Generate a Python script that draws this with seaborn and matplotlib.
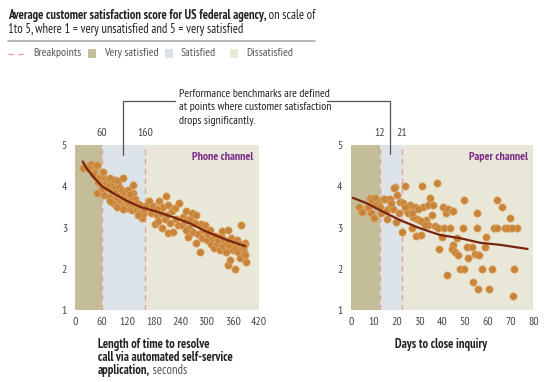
import matplotlib
matplotlib.use("Agg")
import matplotlib.pyplot as plt
import seaborn as sns
from matplotlib import font_manager
from matplotlib.lines import Line2D
from matplotlib.patches import Rectangle

# ---- data ----
phone_x = [18, 28, 37, 45, 49, 43, 47, 52, 49, 40, 55, 58, 30,
           64, 64, 68, 70, 72, 75, 78, 79, 82, 84, 86, 88, 90, 91, 92, 94, 96, 98, 99, 100,
           102, 104, 106, 108, 109, 111, 113, 115, 117, 119, 120, 122, 124, 126, 128, 129,
           131, 133, 134, 136, 138, 140, 142, 145, 148, 150, 152, 155, 157, 66, 76, 86, 96,
           62, 80, 110, 125, 144,
           165, 169, 172, 178, 182, 186, 190, 192, 196, 201, 204, 207, 209, 213, 216, 220,
           224, 228, 231, 235, 238, 243, 247, 250, 254, 257, 260, 263, 266, 270, 273, 277,
           277, 281, 285, 287, 290, 293, 296, 300, 303, 308, 311, 314, 317, 320, 323, 326,
           330, 332, 335, 338, 341, 344, 347, 350, 350, 354, 354, 357, 360, 362, 364, 366,
           369, 372, 375, 377, 379, 382, 385, 388, 388, 390, 386, 212, 253, 199, 186]
phone_y = [4.45, 4.50, 4.55, 4.47, 4.52, 4.35, 4.23, 4.11, 3.84, 4.30, 4.20, 4.05, 4.45,
           4.35, 4.19, 4.17, 4.09, 3.95, 4.17, 4.00, 4.19, 3.90, 3.80, 4.05, 3.72, 3.95, 4.15, 3.60, 3.85, 3.70, 4.13, 3.98, 3.55,
           3.80, 3.65, 3.90, 4.19, 3.75, 3.55, 3.85, 3.62, 3.70, 3.48, 3.90, 3.60, 3.75, 3.45, 3.68, 3.42,
           3.83, 4.03, 3.55, 3.70, 3.48, 3.42, 3.60, 3.50, 3.55, 3.38, 3.22, 3.33, 3.45, 3.80, 3.75, 3.60, 3.50,
           3.95, 3.65, 3.45, 3.82, 3.30,
           3.55, 3.64, 3.35, 3.52, 3.08, 3.30, 3.15, 3.65, 3.35, 3.49, 3.20, 3.76, 3.30, 2.87, 3.10, 3.41,
           2.90, 3.47, 3.20, 3.05, 3.60, 3.06, 3.25, 3.15, 3.41, 2.76, 3.00, 3.20, 3.34, 2.90, 3.10, 3.30,
           2.62, 2.85, 2.40, 3.08, 2.75, 2.95, 3.06, 2.70, 2.85, 2.94, 2.60, 2.75, 2.50, 2.80, 2.62, 2.70,
           2.45, 2.80, 2.92, 2.55, 2.70, 2.40, 2.60, 2.94, 2.09, 2.54, 2.21, 2.75, 2.45, 2.65, 2.00, 2.50,
           2.70, 2.40, 2.60, 2.25, 3.06, 2.50, 2.40, 2.62, 2.33, 2.17, 2.55, 3.55, 2.95, 3.00, 3.45]
phone_trend_x = [17, 26, 41, 61, 87, 117, 148, 178, 224, 262, 300, 346, 388]
phone_trend_y = [4.60, 4.43, 4.23, 4.00, 3.83, 3.65, 3.50, 3.41, 3.25, 3.10, 2.90, 2.70, 2.55]

paper_x = [3.8, 4.8, 7.4, 8.5, 8.9, 10.3, 9.2, 10.7, 12.1, 11.0, 13.3, 14.0, 15.0, 16.0, 17.0, 16.5,
           18.7, 19.4, 20.1, 19.8, 19.1, 17.5, 21.6, 23.0, 23.8, 22.6, 24.5, 26.0, 26.7, 28.2, 28.9,
           28.6, 30.7, 31.4, 31.8, 33.0, 34.0, 34.7, 35.5, 34.0, 36.9, 37.7, 38.4, 38.8, 39.8, 40.3,
           41.0, 42.0, 41.6, 42.8, 43.5, 44.2, 45.0, 44.7, 44.2, 45.7, 46.4, 47.2, 47.9, 49.0, 49.6,
           49.8, 50.8, 51.5, 53.0, 53.7, 54.5, 55.2, 55.2, 55.6, 56.4, 57.7, 58.8, 59.3, 60.6, 61.8,
           62.9, 63.9, 64.2, 66.1, 67.5, 69.0, 69.8, 71.7, 71.2, 73.0, 70.5, 25.0, 27.5, 29.5, 31.0,
           13.0, 15.5, 21.0, 24.0, 27.0, 32.5, 36.0]
paper_y = [3.49, 3.38, 3.49, 3.71, 3.36, 3.22, 3.67, 3.71, 3.60, 3.55, 3.36, 3.70, 3.69, 3.20, 3.69, 3.45,
           3.44, 3.97, 3.79, 3.14, 3.95, 3.60, 3.63, 3.60, 4.00, 2.90, 3.41, 3.55, 3.00, 3.49, 3.20,
           2.80, 2.82, 4.00, 3.50, 3.17, 3.55, 3.71, 3.30, 3.06, 3.04, 4.09, 3.00, 2.47, 2.78, 3.49,
           3.00, 1.85, 3.36, 3.44, 3.00, 3.41, 3.41, 2.57, 2.49, 2.41, 2.74, 2.33, 2.00, 3.00, 3.67,
           2.00, 2.52, 2.25, 2.52, 1.67, 2.36, 3.34, 3.00, 1.52, 2.33, 2.00, 2.52, 2.76, 1.52, 2.00,
           3.00, 3.67, 3.00, 3.50, 3.00, 3.00, 3.24, 2.00, 1.35, 3.00, 3.00, 3.35, 3.25, 3.45, 3.15,
           3.50, 3.40, 3.35, 3.50, 3.35, 3.05, 3.55]
paper_trend_x = [0.9, 7, 12.8, 21.6, 30.4, 39, 48, 56.6, 65.4, 77.5]
paper_trend_y = [3.72, 3.59, 3.42, 3.18, 2.98, 2.82, 2.74, 2.63, 2.58, 2.48]

phone_breaks = [60, 160]
phone_break_labels = ["60", "160"]
paper_breaks = [12.8, 22.4]
paper_break_labels = ["12", "21"]
phone_ticks = [0, 60, 120, 180, 240, 300, 360, 420]
paper_ticks = [0, 10, 20, 30, 40, 50, 60, 70, 80]
y_ticks = [1, 2, 3, 4, 5]

# ---- styles ----
c_very = "#C4BD9A"
c_sat = "#DCE4EA"
c_dis = "#E9E7D8"
c_break = "#E3A3A0"
c_dot = "#C8843A"
c_dot_edge = "#DDA865"
c_trend = "#7A2410"
c_txt = "#222222"
c_tick = "#444444"
c_channel = "#7B2A8A"

sns.set_style("white")
# narrow font like the original if there is one, else a smaller regular sans
available = {f.name for f in font_manager.fontManager.ttflist}
if "PT Sans Narrow" in available:
    plt.rcParams['font.family'] = ['PT Sans Narrow', 'DejaVu Sans']
    k = 1.0
else:
    plt.rcParams['font.family'] = ['Liberation Sans', 'DejaVu Sans']
    k = 0.82

W, H = 545, 382
fig = plt.figure(figsize=(W / 100, H / 100), dpi=100)


def fx(px):
    return px / W


def fy(py):
    return 1 - py / H


def draw_panel(ax, xs, ys, tx, ty, breaks, break_labels, ticks, xmax, name):
    ax.axvspan(0, breaks[0], color=c_very, lw=0)
    ax.axvspan(breaks[0], breaks[1], color=c_sat, lw=0)
    ax.axvspan(breaks[1], xmax, color=c_dis, lw=0)
    for b, lab in zip(breaks, break_labels):
        ax.axvline(b, color=c_break, lw=1, ls=(0, (4, 3)))
        ax.text(b, 1.04, lab, transform=ax.get_xaxis_transform(), ha="center",
                va="bottom", fontsize=8.5 * k, color=c_tick)
    sns.scatterplot(x=xs, y=ys, ax=ax, s=28, color=c_dot, edgecolor=c_dot_edge,
                    linewidth=0.5, zorder=3)
    sns.lineplot(x=tx, y=ty, ax=ax, color=c_trend, lw=1.6, zorder=4)
    ax.set_xlim(0, xmax)
    ax.set_ylim(1, 5)
    ax.set_xticks(ticks)
    ax.set_yticks(y_ticks)
    ax.tick_params(axis="x", direction="in", length=3, width=0.8, color="#555555",
                   pad=5, labelsize=8.5 * k, labelcolor=c_tick)
    ax.tick_params(axis="y", direction="out", length=3, width=0.8, color="#555555",
                   pad=3, labelsize=8.5 * k, labelcolor=c_tick)
    for s in ax.spines.values():
        s.set_visible(False)
    ax.set_xlabel("")
    ax.set_ylabel("")
    ax.text(0.97, 0.93, name, transform=ax.transAxes, ha="right", va="center",
            fontsize=8.5 * k, fontweight="bold", color=c_channel)


ax1 = fig.add_axes([fx(75.3), fy(310), fx(183.7), 165 / H])
ax2 = fig.add_axes([fx(350.7), fy(310), fx(182.6), 165 / H])
draw_panel(ax1, phone_x, phone_y, phone_trend_x, phone_trend_y, phone_breaks,
           phone_break_labels, phone_ticks, 420, "Phone channel")
draw_panel(ax2, paper_x, paper_y, paper_trend_x, paper_trend_y, paper_breaks,
           paper_break_labels, paper_ticks, 80, "Paper channel")

# ---- title ----
t1 = fig.text(fx(8), fy(15.5), "Average customer satisfaction score for US federal agency,",
              fontsize=9 * k, fontweight="bold", color=c_txt, va="center")
plt.annotate(" on scale of", xy=(1, 0), xycoords=t1, va="bottom", fontsize=9 * k, color=c_txt)
fig.text(fx(8), fy(29.5), "1to 5, where 1 = very unsatisfied and 5 = very satisfied",
         fontsize=9 * k, color=c_txt, va="center")
fig.add_artist(Line2D([fx(8), fx(315)], [fy(41), fy(41)], color="#AAAAAA", lw=1.2))

# ---- legend ----
ly = 53.5
fig.add_artist(Line2D([fx(8), fx(27)], [fy(ly), fy(ly)], color=c_break, lw=1, ls=(0, (4, 3))))
fig.text(fx(33), fy(ly), "Breakpoints", fontsize=8.5 * k, color="#555555", va="center")
for x0, col, lab in [(88, c_very, "Very satisfied"), (165, c_sat, "Satisfied"),
                     (230, c_dis, "Dissatisfied")]:
    fig.add_artist(Rectangle((fx(x0), fy(ly + 4)), fx(8), 8 / H, color=col, lw=0))
    fig.text(fx(x0 + 16), fy(ly), lab, fontsize=8.5 * k, color="#555555", va="center")

# ---- annotation bracket ----
for i, line in enumerate(["Performance benchmarks are defined",
                          "at points where customer satisfaction",
                          "drops significantly."]):
    fig.text(fx(179), fy(94 + 13.5 * i), line, fontsize=8.5 * k, color=c_txt, va="center")
fig.add_artist(Line2D([fx(123.3), fx(123.3), fx(175)], [fy(155), fy(101), fy(101)],
                      color="#555555", lw=0.9))
fig.add_artist(Line2D([fx(327), fx(390), fx(390)], [fy(101), fy(101), fy(154)],
                      color="#555555", lw=0.9))

# ---- axis titles ----
fig.text(fx(98), fy(344.5), "Length of time to resolve", fontsize=9 * k,
         fontweight="bold", color=c_txt, va="center")
fig.text(fx(98), fy(357.5), "call via automated self-service", fontsize=9 * k,
         fontweight="bold", color=c_txt, va="center")
x2 = fig.text(fx(98), fy(370.5), "application,", fontsize=9 * k, fontweight="bold",
              color=c_txt, va="center")
plt.annotate(" seconds", xy=(1, 0), xycoords=x2, va="bottom", fontsize=9 * k, color="#555555")
fig.text(fx(441), fy(344.5), "Days to close inquiry", fontsize=9 * k, fontweight="bold",
         color=c_txt, ha="center", va="center")

fig.savefig("out.png", dpi=100)
